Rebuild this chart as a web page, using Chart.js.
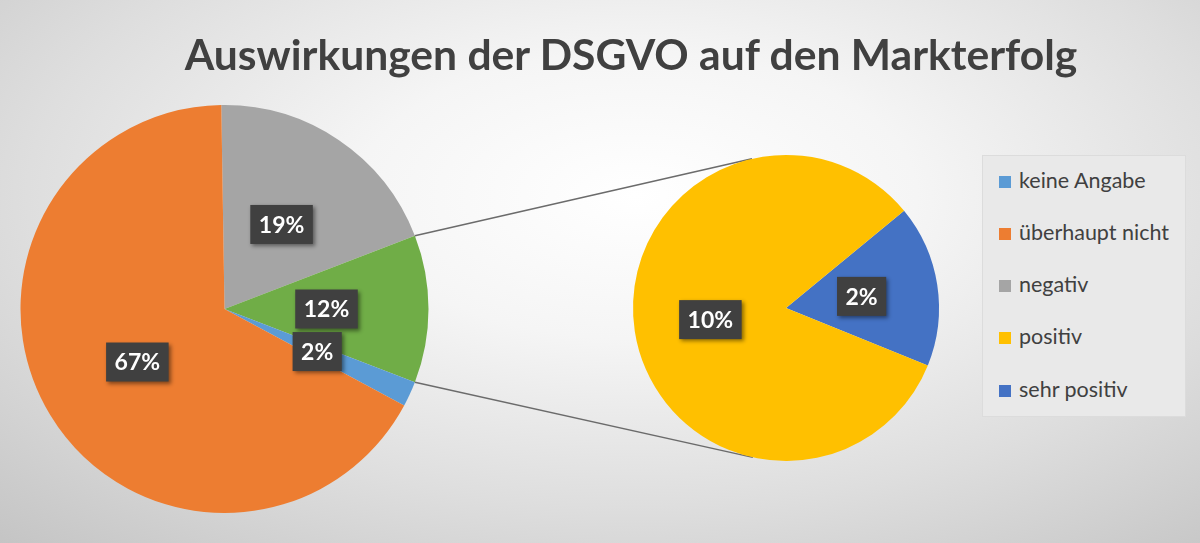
<!DOCTYPE html>
<html>
<head>
<meta charset="utf-8">
<script src="https://cdn.jsdelivr.net/npm/chart.js@4"></script>
<style>
html,body{margin:0;padding:0;background:#fff;}
#wrap{position:relative;width:1200px;height:543px;overflow:hidden;
  background:radial-gradient(ellipse 78% 88% at 53% 36%, #ffffff 0%, #f5f5f5 30%, #dedede 65%, #c4c4c4 100%);
  font-family:Lato,"Open Sans",sans-serif;color:#404040;}
#wrap canvas{position:absolute;left:0;top:0;}
#title{position:absolute;left:631px;top:31px;transform:translateX(-50%);white-space:nowrap;
  font-weight:700;font-size:42.6px;line-height:45px;color:#404040;}
#legend{position:absolute;left:982px;top:155px;width:204px;height:262px;box-sizing:border-box;
  background:#e9e9e9;border:1px solid #dcdcdc;}
.item{position:absolute;left:16px;height:24px;line-height:24px;font-size:21.5px;white-space:nowrap;color:#404040;}
.sq{position:absolute;left:0;top:6px;width:12px;height:12px;}
.tx{position:absolute;left:20px;top:-2px;}
</style>
</head>
<body>
<div id="wrap">
  <canvas id="mainPie" width="1200" height="543"></canvas>
  <canvas id="subPie" width="1200" height="543"></canvas>
  <div id="title">Auswirkungen der DSGVO auf den Markterfolg</div>
  <div id="legend"></div>
</div>
<script>
// ---- data (percent of all answers) ----
const categories = ["keine Angabe", "überhaupt nicht", "negativ", "positiv", "sehr positiv"];
const keineAngabe = 2.0;
const ueberhauptNicht = 66.9;
const negativ = 19.4;
const positiv = 9.7;
const sehrPositiv = 2.0;
const catColors = ["#5B9BD5", "#ED7D31", "#A5A5A5", "#FFC000", "#4472C4"];
const otherColor = "#70AD47";

// main pie (clockwise): negativ, "other" (positiv+sehr positiv), keine Angabe, überhaupt nicht
const otherValue = positiv + sehrPositiv;
const mainLabels = ["negativ", "positiv + sehr positiv", "keine Angabe", "überhaupt nicht"];
const mainValues = [negativ, otherValue, keineAngabe, ueberhauptNicht];
const mainColors = [catColors[2], otherColor, catColors[0], catColors[1]];
// secondary pie: sehr positiv, positiv
const subLabels = ["sehr positiv", "positiv"];
const subValues = [sehrPositiv, positiv];
const subColors = [catColors[4], catColors[3]];

const total = mainValues.reduce((a, b) => a + b, 0);
// rotate so that the "other" slice is centred on 3 o'clock
const mainRotation = 90 - (otherValue / total) * 180 - (negativ / total) * 360;

const boxLabels = {
  id: 'boxLabels',
  afterDatasetsDraw(chart) {
    const ctx = chart.ctx;
    const ds = chart.data.datasets[0];
    chart.getDatasetMeta(0).data.forEach((arc, i) => {
      const p = arc.tooltipPosition(true);
      const txt = Math.round(ds.data[i] / total * 100) + '%';
      ctx.save();
      ctx.font = 'bold 23px Lato, "Open Sans", sans-serif';
      const w = ctx.measureText(txt).width + 17;
      const h = 39;
      ctx.shadowColor = 'rgba(0,0,0,0.45)';
      ctx.shadowBlur = 4;
      ctx.shadowOffsetX = 2;
      ctx.shadowOffsetY = 2;
      ctx.fillStyle = '#404040';
      ctx.fillRect(p.x - w / 2, p.y - h / 2, w, h);
      ctx.shadowColor = 'transparent';
      ctx.fillStyle = '#ffffff';
      ctx.textAlign = 'center';
      ctx.textBaseline = 'middle';
      ctx.fillText(txt, p.x, p.y + 1);
      ctx.restore();
    });
  }
};

const baseOpts = {
  responsive: false,
  animation: false,
  plugins: { legend: { display: false }, tooltip: { enabled: false }, title: { display: false } },
  events: []
};

const mainChart = new Chart(document.getElementById('mainPie'), {
  type: 'pie',
  data: { labels: mainLabels, datasets: [{ data: mainValues, backgroundColor: mainColors, borderWidth: 0 }] },
  options: Object.assign({}, baseOpts, {
    rotation: mainRotation,
    layout: { padding: { left: 20.5, top: 105, right: 771.5, bottom: 30 } }
  }),
  plugins: [boxLabels]
});

const connector = {
  id: 'connector',
  beforeDatasetsDraw(chart) {
    const m = mainChart.getDatasetMeta(0).data[1];
    const s = chart.getDatasetMeta(0).data[0];
    const C = { x: s.x, y: s.y }, R = s.outerRadius;
    const ctx = chart.ctx;
    [m.startAngle, m.endAngle].forEach((a, k) => {
      const P = { x: m.x + m.outerRadius * Math.cos(a), y: m.y + m.outerRadius * Math.sin(a) };
      const dx = P.x - C.x, dy = P.y - C.y, d = Math.hypot(dx, dy);
      const th = Math.atan2(dy, dx), al = Math.acos(R / d);
      const c = [th + al, th - al].map(t => ({ x: C.x + R * Math.cos(t), y: C.y + R * Math.sin(t) }));
      const T = k === 0 ? (c[0].y < c[1].y ? c[0] : c[1]) : (c[0].y > c[1].y ? c[0] : c[1]);
      ctx.save();
      ctx.strokeStyle = '#6b6b6b';
      ctx.lineWidth = 1.5;
      ctx.beginPath();
      ctx.moveTo(P.x, P.y);
      ctx.lineTo(T.x, T.y);
      ctx.stroke();
      ctx.restore();
    });
  }
};

new Chart(document.getElementById('subPie'), {
  type: 'pie',
  data: { labels: subLabels, datasets: [{ data: subValues, backgroundColor: subColors, borderWidth: 0 }] },
  options: Object.assign({}, baseOpts, {
    rotation: 50.5,
    layout: { padding: { left: 633, top: 155, right: 261, bottom: 82 } }
  }),
  plugins: [connector, boxLabels]
});

// legend built from the category arrays
const legend = document.getElementById('legend');
categories.forEach((name, i) => {
  const it = legend.appendChild(document.createElement('div'));
  it.className = 'item';
  it.style.top = (26.5 - 12 - 1 + i * 52.3) + 'px';
  const sq = it.appendChild(document.createElement('span'));
  sq.className = 'sq';
  sq.style.background = catColors[i];
  const tx = it.appendChild(document.createElement('span'));
  tx.className = 'tx';
  tx.textContent = name;
});
</script>
</body>
</html>
